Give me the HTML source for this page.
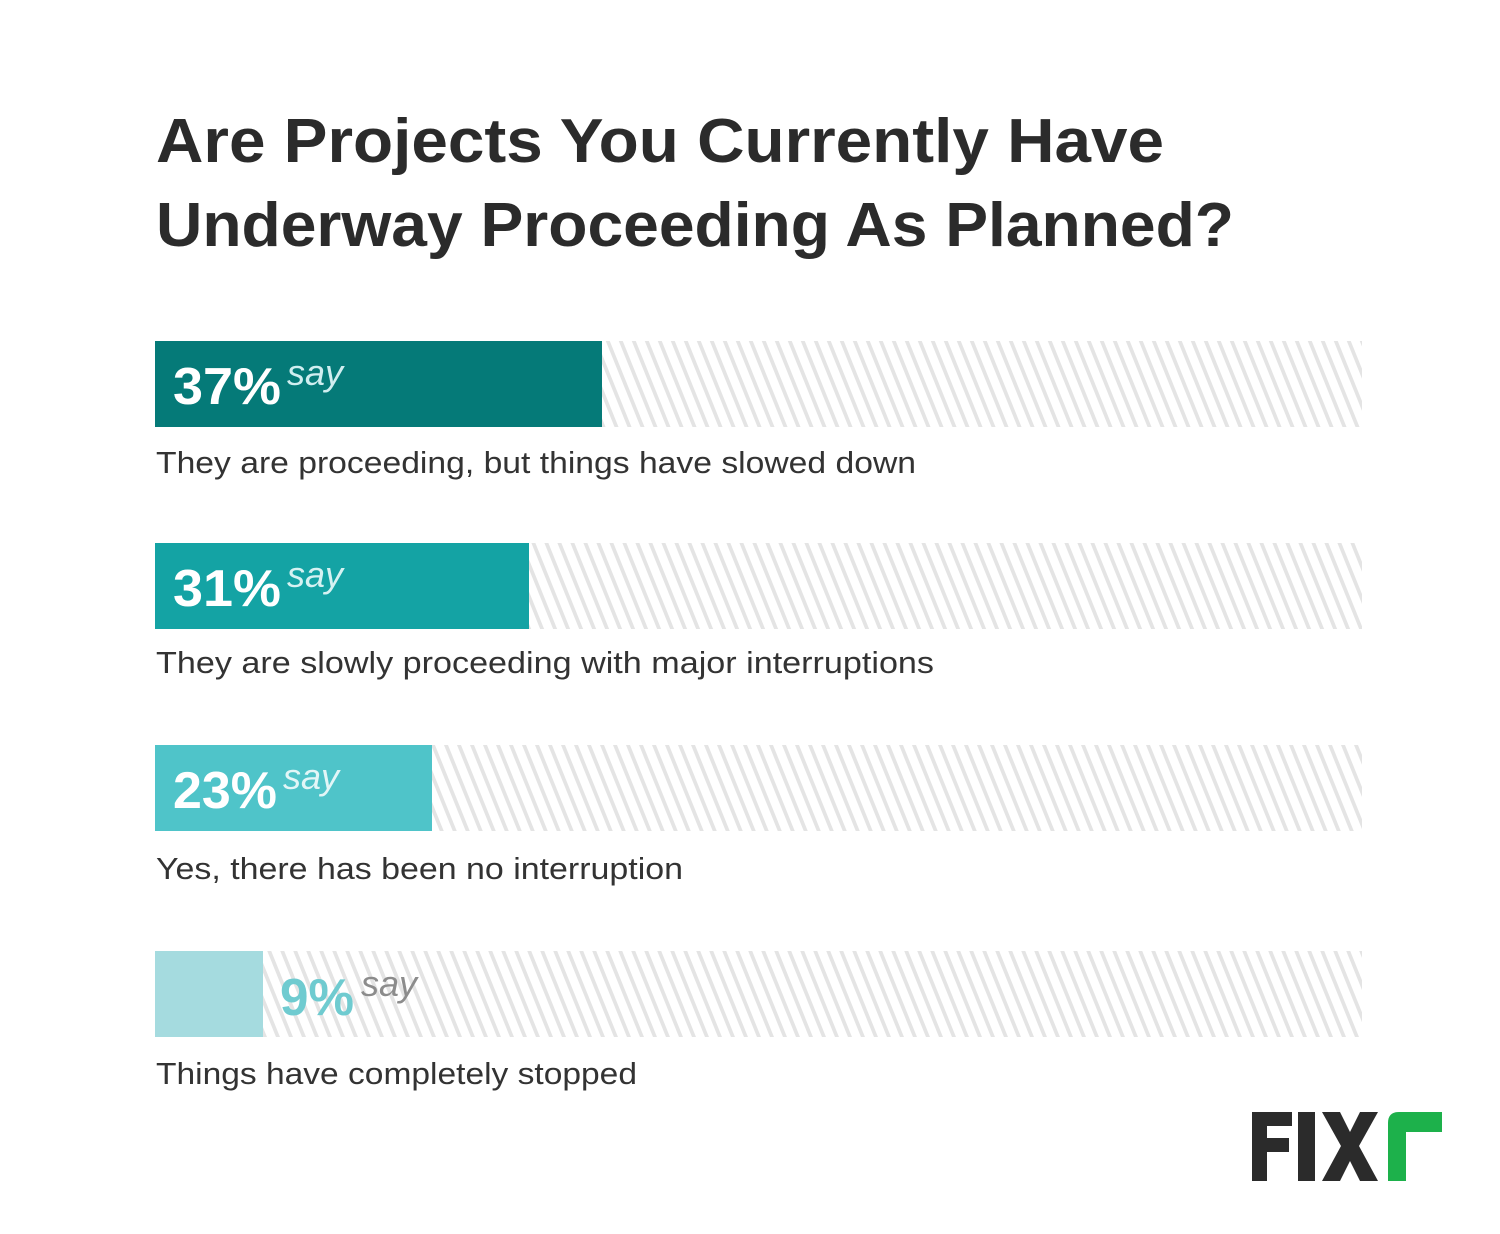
<!DOCTYPE html>
<html><head><meta charset="utf-8"><style>
html,body{margin:0;padding:0;background:#fff;}
svg{display:block;}
</style></head><body>
<svg width="1500" height="1234" viewBox="0 0 1500 1234" xmlns="http://www.w3.org/2000/svg">
<defs>
<pattern id="h" width="13" height="86" patternUnits="userSpaceOnUse" patternTransform="skewX(22)">
<rect x="0" y="0" width="4" height="86" fill="#e4e4e4"/>
</pattern>
</defs>
<rect width="1500" height="1234" fill="#fff"/>
<g font-family="'Liberation Sans', sans-serif" fill="#2b2b2b" font-weight="bold" font-size="62">
<text x="156" y="162" textLength="1008" lengthAdjust="spacingAndGlyphs">Are Projects You Currently Have</text>
<text x="156" y="246" textLength="1078" lengthAdjust="spacingAndGlyphs">Underway Proceeding As Planned?</text>
</g>
<rect x="155" y="341" width="1207" height="86" fill="url(#h)"/>
<rect x="155" y="543" width="1207" height="86" fill="url(#h)"/>
<rect x="155" y="745" width="1207" height="86" fill="url(#h)"/>
<rect x="155" y="951" width="1207" height="86" fill="url(#h)"/>
<rect x="155" y="341" width="447" height="86" fill="#057a78"/>
<rect x="155" y="543" width="374" height="86" fill="#14a3a4"/>
<rect x="155" y="745" width="277" height="86" fill="#4fc4c9"/>
<rect x="155" y="951" width="108" height="86" fill="#a5dbdf"/>
<g font-family="'Liberation Sans', sans-serif" font-weight="bold" font-size="52" fill="#fff">
<text x="173" y="404" textLength="108" lengthAdjust="spacingAndGlyphs">37%</text>
<text x="173" y="606" textLength="108" lengthAdjust="spacingAndGlyphs">31%</text>
<text x="173" y="808" textLength="104" lengthAdjust="spacingAndGlyphs">23%</text>
<text x="280" y="1015" textLength="74" lengthAdjust="spacingAndGlyphs" fill="#6fcbd0">9%</text>
</g>
<g font-family="'Liberation Sans', sans-serif" font-style="italic" font-size="36">
<text x="287" y="385" fill="#d0eef0">say</text>
<text x="287" y="587" fill="#d6f2f2">say</text>
<text x="283" y="789" fill="#e2f6f7">say</text>
<text x="361" y="996" fill="#8c8c8c">say</text>
</g>
<g font-family="'Liberation Sans', sans-serif" font-size="31" fill="#333">
<text x="156" y="473" textLength="760" lengthAdjust="spacingAndGlyphs">They are proceeding, but things have slowed down</text>
<text x="156" y="673" textLength="778" lengthAdjust="spacingAndGlyphs">They are slowly proceeding with major interruptions</text>
<text x="156" y="879" textLength="527" lengthAdjust="spacingAndGlyphs">Yes, there has been no interruption</text>
<text x="156" y="1084" textLength="481" lengthAdjust="spacingAndGlyphs">Things have completely stopped</text>
</g>
<g fill="#2b2b2b">
<path d="M1252 1112 h40 v14 h-25 v12 h22 v14 h-22 v29 h-15 z"/>
<rect x="1298" y="1112" width="17" height="69"/>
<path d="M1322 1112 h18 l10 20 l10 -20 h18 l-19 34 l19 35 h-18 l-10 -20 l-10 20 h-18 l19 -35 z"/>
</g>
<path d="M1388 1181 v-58 q0 -11 11 -11 h43 v20 h-36 v49 z" fill="#1db14b"/>
</svg>
</body></html>
